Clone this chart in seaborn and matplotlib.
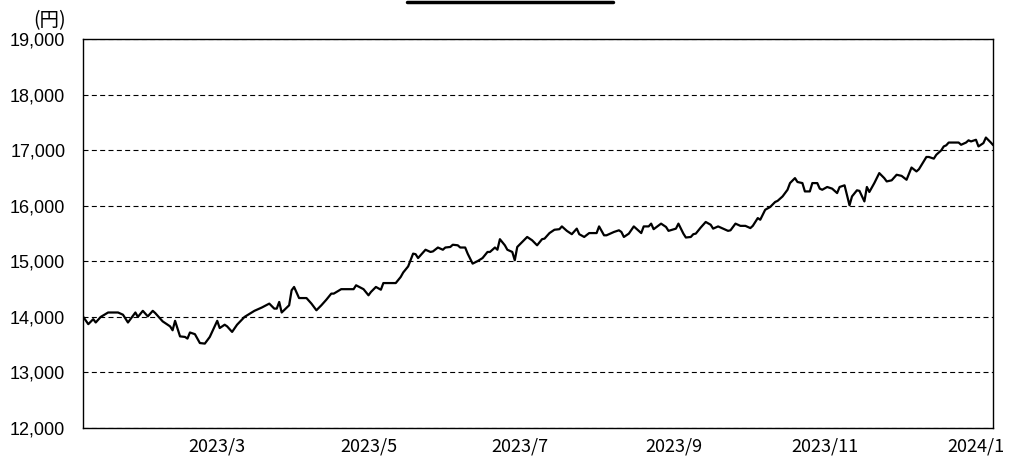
import matplotlib
matplotlib.use("Agg")
import pandas as pd
import matplotlib.pyplot as plt
from matplotlib.ticker import FuncFormatter
from matplotlib.lines import Line2D
import seaborn as sns

# --- dati (基準価額, 円) ---
dates = [
    "2023-01-06", "2023-01-08", "2023-01-10", "2023-01-11", "2023-01-13", "2023-01-16",
    "2023-01-20", "2023-01-22", "2023-01-24", "2023-01-27", "2023-01-28", "2023-01-30",
    "2023-02-01", "2023-02-03", "2023-02-04", "2023-02-07", "2023-02-10", "2023-02-11",
    "2023-02-12", "2023-02-14", "2023-02-16", "2023-02-17", "2023-02-18", "2023-02-20",
    "2023-02-22", "2023-02-24", "2023-02-26", "2023-03-01", "2023-03-02", "2023-03-04",
    "2023-03-05", "2023-03-07", "2023-03-09", "2023-03-12", "2023-03-16", "2023-03-19",
    "2023-03-22", "2023-03-24", "2023-03-25", "2023-03-26", "2023-03-27", "2023-03-30",
    "2023-03-31", "2023-04-01", "2023-04-03", "2023-04-06", "2023-04-08", "2023-04-10",
    "2023-04-12", "2023-04-14", "2023-04-16", "2023-04-17", "2023-04-20", "2023-04-25",
    "2023-04-26", "2023-04-29", "2023-05-01", "2023-05-02", "2023-05-04", "2023-05-06",
    "2023-05-07", "2023-05-12", "2023-05-14", "2023-05-15", "2023-05-17", "2023-05-19",
    "2023-05-20", "2023-05-21", "2023-05-24", "2023-05-26", "2023-05-27", "2023-05-29",
    "2023-05-31", "2023-06-01", "2023-06-03", "2023-06-04", "2023-06-06", "2023-06-07",
    "2023-06-09", "2023-06-10", "2023-06-12", "2023-06-14", "2023-06-16", "2023-06-18",
    "2023-06-19", "2023-06-21", "2023-06-22", "2023-06-23", "2023-06-25", "2023-06-26",
    "2023-06-28", "2023-06-29", "2023-06-30", "2023-07-02", "2023-07-04", "2023-07-06",
    "2023-07-08", "2023-07-10", "2023-07-11", "2023-07-13", "2023-07-15", "2023-07-17",
    "2023-07-18", "2023-07-20", "2023-07-22", "2023-07-24", "2023-07-25", "2023-07-27",
    "2023-07-29", "2023-08-01", "2023-08-02", "2023-08-04", "2023-08-05", "2023-08-08",
    "2023-08-10", "2023-08-11", "2023-08-12", "2023-08-14", "2023-08-16", "2023-08-19",
    "2023-08-20", "2023-08-22", "2023-08-23", "2023-08-24", "2023-08-27", "2023-08-29",
    "2023-08-30", "2023-09-02", "2023-09-03", "2023-09-05", "2023-09-06", "2023-09-08",
    "2023-09-09", "2023-09-10", "2023-09-12", "2023-09-14", "2023-09-16", "2023-09-17",
    "2023-09-19", "2023-09-21", "2023-09-23", "2023-09-24", "2023-09-26", "2023-09-28",
    "2023-09-30", "2023-10-02", "2023-10-03", "2023-10-05", "2023-10-06", "2023-10-08",
    "2023-10-10", "2023-10-12", "2023-10-13", "2023-10-15", "2023-10-17", "2023-10-18",
    "2023-10-20", "2023-10-21", "2023-10-23", "2023-10-24", "2023-10-26", "2023-10-27",
    "2023-10-29", "2023-10-30", "2023-10-31", "2023-11-02", "2023-11-04", "2023-11-06",
    "2023-11-07", "2023-11-09", "2023-11-11", "2023-11-12", "2023-11-14", "2023-11-15",
    "2023-11-17", "2023-11-18", "2023-11-19", "2023-11-21", "2023-11-23", "2023-11-25",
    "2023-11-26", "2023-11-28", "2023-11-30", "2023-12-02", "2023-12-04", "2023-12-06",
    "2023-12-08", "2023-12-09", "2023-12-12", "2023-12-13", "2023-12-15", "2023-12-16",
    "2023-12-18", "2023-12-19", "2023-12-20", "2023-12-21", "2023-12-25", "2023-12-26",
    "2023-12-28", "2023-12-29", "2023-12-30", "2024-01-01", "2024-01-02", "2024-01-04",
    "2024-01-05", "2024-01-07", "2024-01-08",
]

nav = [
    14000, 13870, 13960, 13900, 14000, 14080,
    14080, 14040, 13900, 14080, 14000, 14110,
    14010, 14110, 14070, 13920, 13830, 13760,
    13930, 13650, 13640, 13610, 13720, 13690,
    13530, 13520, 13640, 13930, 13800, 13860,
    13830, 13730, 13860, 14000, 14110, 14170,
    14240, 14150, 14150, 14270, 14080, 14210,
    14480, 14540, 14340, 14340, 14240, 14120,
    14210, 14310, 14420, 14420, 14500, 14500,
    14570, 14500, 14390, 14450, 14540, 14490,
    14610, 14610, 14720, 14800, 14910, 15140,
    15130, 15060, 15210, 15170, 15180, 15250,
    15210, 15250, 15260, 15300, 15290, 15250,
    15250, 15140, 14960, 15005, 15060, 15170,
    15170, 15250, 15210, 15400, 15290, 15210,
    15170, 15020, 15260, 15350, 15440, 15380,
    15290, 15400, 15410, 15510, 15570, 15580,
    15630, 15550, 15490, 15590, 15490, 15440,
    15510, 15510, 15630, 15470, 15470, 15530,
    15560, 15530, 15440, 15500, 15630, 15510,
    15630, 15630, 15680, 15580, 15680, 15620,
    15550, 15590, 15680, 15500, 15430, 15440,
    15490, 15500, 15610, 15710, 15660, 15590,
    15630, 15590, 15550, 15560, 15680, 15640,
    15640, 15600, 15640, 15780, 15750, 15930,
    15980, 16070, 16090, 16170, 16290, 16410,
    16500, 16430, 16410, 16260, 16260, 16410,
    16410, 16310, 16290, 16340, 16310, 16230,
    16340, 16370, 16010, 16170, 16280, 16270,
    16080, 16340, 16250, 16410, 16590, 16500,
    16440, 16460, 16560, 16540, 16470, 16690,
    16620, 16660, 16880, 16880, 16850, 16920,
    17000, 17070, 17090, 17140, 17140, 17100,
    17140, 17180, 17160, 17190, 17070, 17130,
    17230, 17140, 17090,
]

tick_dates = ["2023-03-01", "2023-05-01", "2023-07-01", "2023-09-01", "2023-11-01", "2024-01-01"]
y_ticks = [12000, 13000, 14000, 15000, 16000, 17000, 18000, 19000]

df = pd.DataFrame({"日付": pd.to_datetime(dates), "基準価額": nav})
ticks = pd.to_datetime(tick_dates)

# --- impostazione grafica ---
sns.set_theme(style="white")
plt.rcParams["font.family"] = ["Liberation Sans", "Noto Sans CJK JP", "DejaVu Sans"]

fig = plt.figure(figsize=(10.1, 4.59), dpi=100)
ax = fig.add_axes([0.0825, 0.0675, 0.901, 0.847])

sns.lineplot(data=df, x="日付", y="基準価額", color="black", linewidth=1.6, ax=ax)

ax.set_xlim(df["日付"].min(), df["日付"].max())
ax.set_ylim(y_ticks[0], y_ticks[-1])
ax.set_yticks(y_ticks)
ax.yaxis.set_major_formatter(FuncFormatter(lambda v, p: f"{v:,.0f}"))
ax.set_xticks(ticks)
ax.set_xticklabels([f"{d.year}/{d.month}" for d in ticks], family=["Noto Sans CJK JP", "DejaVu Sans"])
ax.set_xlabel("")
ax.set_ylabel("")

ax.yaxis.grid(True, linestyle=(0, (4.5, 3)), color="black", linewidth=0.8)
ax.xaxis.grid(False)
for sp in ax.spines.values():
    sp.set_color("black")
    sp.set_linewidth(1.0)

ax.tick_params(axis="x", direction="in", length=8, width=1, color="black",
               labelsize=13, pad=7, labelcolor="black")
ax.tick_params(axis="y", length=0, labelsize=13, pad=13, labelcolor="black")

fig.text(0.049, 0.955, "(円)", ha="center", va="center", fontsize=14,
         family=["Noto Sans CJK JP", "DejaVu Sans"], color="black")

# linea della legenda tagliata in alto
fig.add_artist(Line2D([407 / 1010, 613 / 1010], [1 - 1.5 / 459] * 2,
                      color="black", linewidth=2.5, transform=fig.transFigure))

fig.savefig("out.png", dpi=100)
plt.close(fig)
